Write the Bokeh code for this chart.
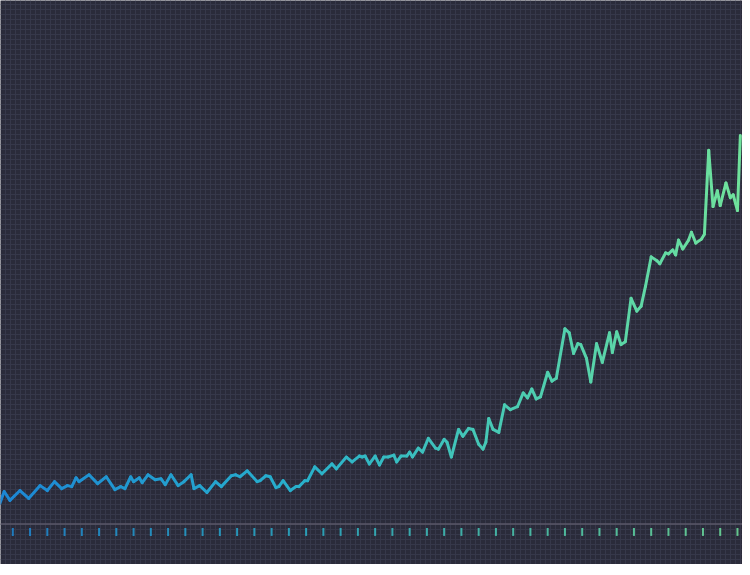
import numpy as np
from bokeh.plotting import figure
from bokeh.models import Range1d, Grid, SingleIntervalTicker, Span, ColumnDataSource
from bokeh.embed import file_html
from bokeh.resources import INLINE

# month index of each observation
months = [3, 6, 10, 17, 23, 31, 36, 41, 46, 50, 53, 56, 58, 65, 71, 77, 83, 87, 90, 94,
          96, 100, 102, 106, 111, 115, 118, 122, 127, 131, 136, 138, 142, 147, 153, 157,
          164, 167, 170, 175, 182, 184, 188, 191, 195, 197, 200, 205, 209, 211, 215, 217,
          222, 227, 234, 237, 244, 248, 253, 255, 257, 260, 264, 267, 270, 273, 277, 279,
          282, 286, 288, 290, 294, 297, 301, 306, 308, 312, 314, 317, 322, 325, 329, 332,
          336, 339, 341, 343, 346, 350, 354, 358, 363, 367, 370, 373, 376, 379, 384, 387,
          390, 396, 399, 402, 405, 407, 411, 414, 418, 422, 427, 429, 432, 435, 438, 442,
          446, 449, 452, 456, 460, 462, 466, 468, 471, 473, 475, 478, 482, 484, 487, 491,
          493, 496, 499, 502, 504, 508, 511, 513, 516, 518]

# series values
values = [5.25, 8.25, 6.0, 8.5, 6.5, 9.75, 8.5, 10.75, 9.0, 9.75, 9.5, 11.75, 10.75, 12.5,
          10.25, 12.0, 8.75, 9.5, 9.0, 12.0, 10.75, 11.75, 10.5, 12.5, 11.25, 11.5, 10.0,
          12.5, 9.75, 10.75, 12.5, 9.0, 9.75, 8.0, 10.75, 9.5, 12.25, 12.5, 12.0, 13.5,
          10.75, 11.0, 12.25, 12.0, 9.25, 9.5, 11.0, 8.5, 9.5, 9.5, 11.0, 11.0, 14.5, 12.75,
          15.25, 14.0, 17.0, 15.75, 17.25, 17.0, 17.25, 15.25, 17.25, 15.0, 17.0, 17.0,
          17.5, 15.75, 17.25, 17.25, 18.25, 17.0, 19.25, 18.25, 21.75, 19.25, 19.0, 21.5,
          20.75, 17.0, 24.0, 22.25, 24.25, 24.0, 20.25, 19.0, 20.75, 26.75, 24.0, 23.25,
          30.25, 29.0, 29.75, 33.25, 32.0, 34.25, 31.75, 32.25, 38.5, 36.25, 37.0, 49.5,
          48.5, 43.25, 45.75, 45.5, 42.0, 36.0, 45.75, 41.0, 48.5, 43.5, 48.75, 45.5, 46.25,
          57.25, 54.0, 55.25, 60.25, 67.75, 66.75, 66.0, 68.75, 68.5, 69.5, 68.25, 72.0,
          69.75, 72.0, 74.0, 71.25, 72.25, 73.5, 94.75, 80.5, 84.5, 80.75, 86.5, 82.75,
          83.5, 79.5, 98.5]

# yearly tick marks (month index)
tick_months = list(range(12, 517, 12))

X0, X1 = 3.44, 519.5
Y0, Y1 = -10.25, 132.75

stops = [(0.0, (28, 134, 212)), (0.4, (40, 176, 204)), (0.72, (78, 206, 176)), (1.0, (112, 226, 156))]

def grad(t):
    t = min(max(t, 0.0), 1.0)
    for (a, ca), (b, cb) in zip(stops[:-1], stops[1:]):
        if t <= b:
            f = (t - a) / (b - a)
            c = [int(round(ca[i] + (cb[i] - ca[i]) * f)) for i in range(3)]
            return "#%02x%02x%02x" % tuple(c)
    return "#%02x%02x%02x" % stops[-1][1]

W, H = 742, 564
p = figure(width=W, height=H, output_backend="svg", toolbar_location=None,
           x_range=Range1d(X0, X1), y_range=Range1d(Y0, Y1),
           x_axis_location=None, y_axis_location=None, min_border=0)
p.background_fill_color = "#2a2b3a"
p.border_fill_color = "#2a2b3a"
p.outline_line_color = None
p.grid.visible = False

p.extra_x_ranges = {"g": Range1d(0, W)}
p.extra_y_ranges = {"g": Range1d(0, H)}
gx = Grid(dimension=0, x_range_name="g", ticker=SingleIntervalTicker(interval=5),
          grid_line_color="#36384a", grid_line_width=1)
gy = Grid(dimension=1, y_range_name="g", ticker=SingleIntervalTicker(interval=5),
          grid_line_color="#36384a", grid_line_width=1)
p.add_layout(gx)
p.add_layout(gy)

p.add_layout(Span(location=0, dimension="width", line_color="#5a5769", line_width=1.5))

xs = np.array(months, dtype=float)
ys = np.array(values, dtype=float)
seg_col = [grad(((xs[i] + xs[i + 1]) / 2 - X0) / (X1 - X0)) for i in range(len(xs) - 1)]
src = ColumnDataSource(dict(x0=xs[:-1], y0=ys[:-1], x1=xs[1:], y1=ys[1:], c=seg_col))
p.segment(x0="x0", y0="y0", x1="x1", y1="y1", color="c", line_width=3,
          line_cap="round", source=src)

tm = np.array(tick_months, dtype=float)
tsrc = ColumnDataSource(dict(x=tm, y0=np.full(len(tm), -1.0), y1=np.full(len(tm), -3.0),
                             c=[grad((t - X0) / (X1 - X0)) for t in tm]))
p.segment(x0="x", y0="y0", x1="x", y1="y1", color="c", line_width=2, alpha=0.85, source=tsrc)

open("out.html", "w").write(file_html(p, INLINE))
